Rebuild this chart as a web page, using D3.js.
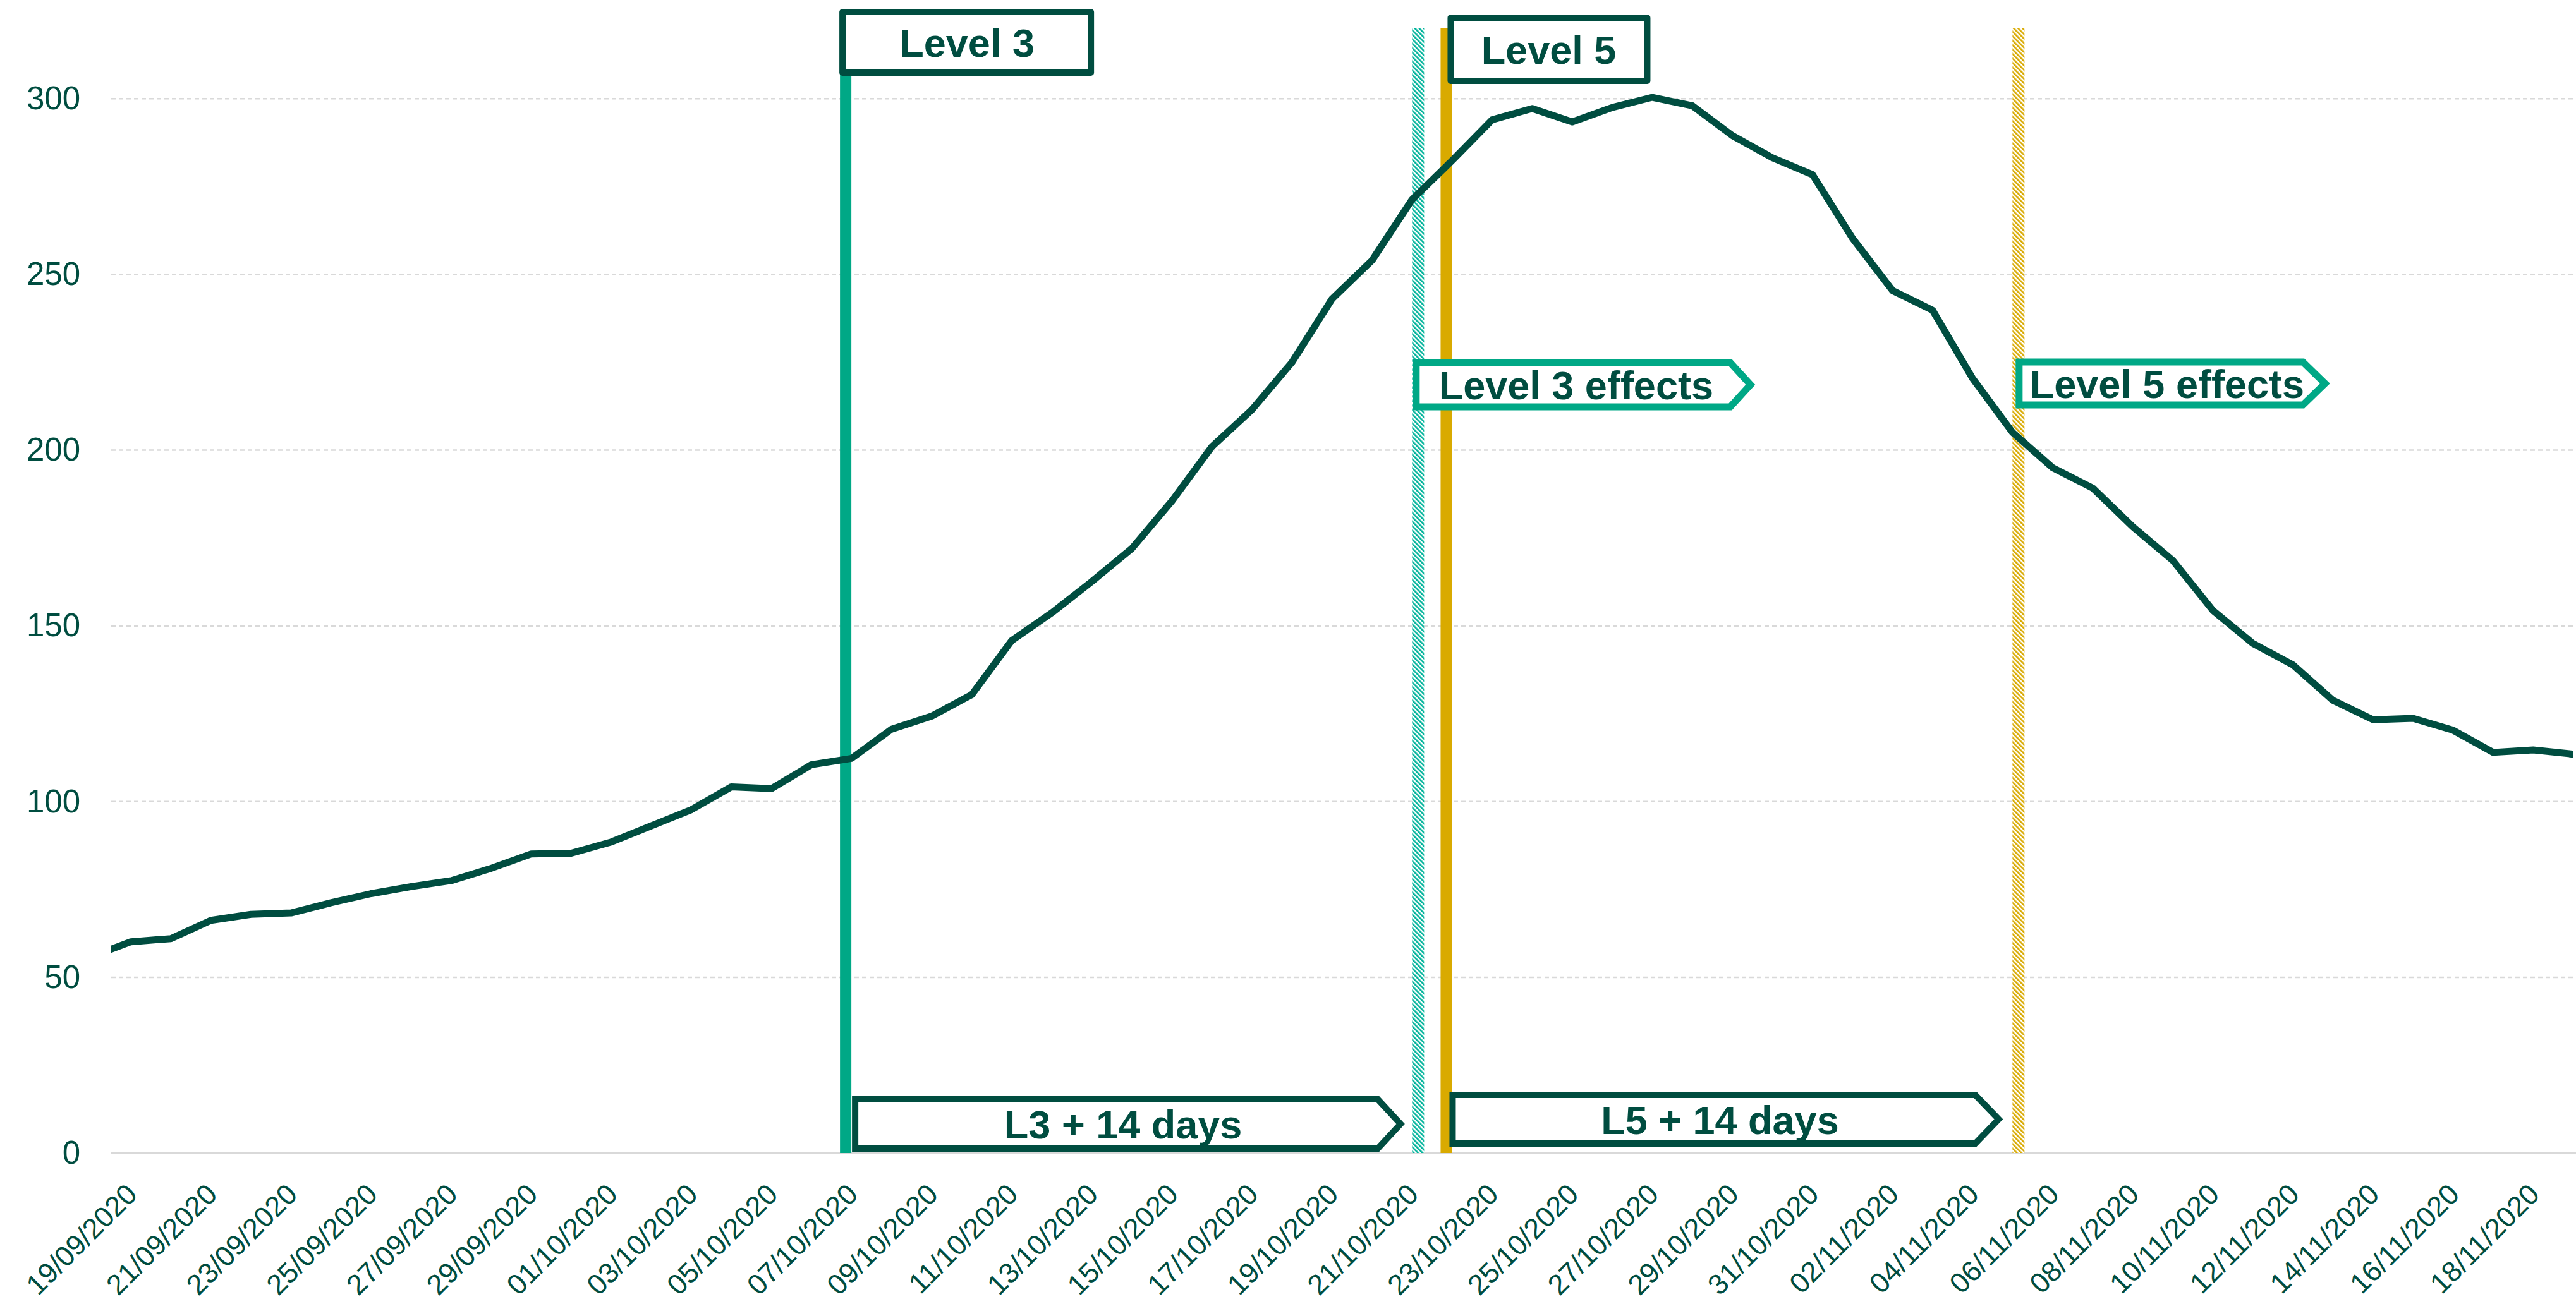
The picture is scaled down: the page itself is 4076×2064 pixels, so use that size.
<!DOCTYPE html>
<html>
<head>
<meta charset="utf-8">
<script src="https://cdn.jsdelivr.net/npm/d3@7"></script>
<style>
  html, body { margin: 0; padding: 0; background: #fff; }
  text { font-family: "Liberation Sans", Arial, sans-serif; }
</style>
</head>
<body>
<div id="plot"></div>
<script>
// daily values, first day 18/09/2020
var startDate = "2020-09-18";
var values = [
  55.8, 60.1, 61.0, 66.2, 67.9, 68.3, 71.2, 73.8, 75.8, 77.5,
  81.0, 85.1, 85.3, 88.5, 93.1, 97.7, 104.2, 103.7, 110.5, 112.3,
  120.6, 124.3, 130.4, 145.8, 153.7, 162.6, 172.0, 185.5, 201.0, 211.5,
  225.0, 243.0, 254.0, 271.3, 282.4, 294.0, 297.2, 293.4, 297.5, 300.4,
  298.0, 289.5, 283.2, 278.4, 260.3, 245.4, 239.8, 220.4, 205.0, 195.0,
  189.2, 178.2, 168.6, 154.4, 145.0, 138.9, 128.8, 123.3, 123.7, 120.3,
  114.0, 114.7, 113.5
];
var yTicks = [0, 50, 100, 150, 200, 250, 300];
var firstTick = "2020-09-19";
var lastTick = "2020-11-18";

// vertical event markers
var events = [
  {key: "L3",    date: "2020-10-06T20:29Z", color: "#00A886", hatch: false},
  {key: "L3eff", date: "2020-10-21T03:36Z", color: "#00B39B", hatch: true},
  {key: "L5",    date: "2020-10-21T20:30Z", color: "#D9AA00", hatch: false},
  {key: "L5eff", date: "2020-11-05T03:30Z", color: "#D9AA00", hatch: true}
];

// annotation boxes, anchored on an event
var notes = [
  {text: "Level 3",         ev: "L3",    dx: -5, w: 393, arrow: 0,  top: 19,   h: 96, tx: 197, stroke: "#004D40"},
  {text: "Level 5",         ev: "L5",    dx: 7,  w: 311, arrow: 0,  top: 28,   h: 100, tx: 155, stroke: "#004D40"},
  {text: "Level 3 effects", ev: "L3eff", dx: -3, w: 497, arrow: 32, top: 574,  h: 70, tx: 253, stroke: "#00A886"},
  {text: "Level 5 effects", ev: "L5eff", dx: 1,  w: 449, arrow: 35, top: 573,  h: 68, tx: 234, stroke: "#00A886"},
  {text: "L3 + 14 days",    ev: "L3",    dx: 15, w: 827, arrow: 36, top: 1740, h: 78, tx: 424, stroke: "#004D40"},
  {text: "L5 + 14 days",    ev: "L5",    dx: 10, w: 827, arrow: 37, top: 1733, h: 77, tx: 423, stroke: "#004D40"}
];

var dark = "#004D40";

var W = 4076, H = 2064;
var margin = {top: 45, right: 0, bottom: 239, left: 176};
var width = W - margin.left - margin.right;
var height = H - margin.top - margin.bottom;

var parse = d3.utcParse("%Y-%m-%d");
var t0 = parse(startDate);
var data = values.map(function(v, i) { return {date: d3.utcDay.offset(t0, i), value: v}; });

var svg = d3.select("#plot").append("svg")
    .attr("width", W)
    .attr("height", H);

var defs = svg.append("defs");
defs.append("clipPath").attr("id", "clip")
  .append("rect")
    .attr("x", margin.left).attr("y", 0)
    .attr("width", width).attr("height", H);

events.filter(function(e) { return e.hatch; }).forEach(function(e) {
  var p = defs.append("pattern")
      .attr("id", "hatch-" + e.key)
      .attr("patternUnits", "userSpaceOnUse")
      .attr("width", 5).attr("height", 5)
      .attr("patternTransform", "rotate(-45)");
  p.append("rect").attr("width", 5).attr("height", 5).attr("fill", "#fff");
  p.append("rect").attr("width", 2.6).attr("height", 5).attr("fill", e.color);
});

// scales
var xScale = d3.scaleUtc()
    .domain([new Date(Date.UTC(2020, 8, 18, 12, 14)), new Date(Date.UTC(2020, 10, 19, 1, 41))])
    .range([margin.left, margin.left + width]);

var yScale = d3.scaleLinear()
    .domain([0, 320])
    .range([margin.top + height, margin.top]);

// gridlines
svg.append("g")
  .selectAll("line")
  .data(yTicks)
  .enter().append("line")
    .attr("x1", margin.left)
    .attr("x2", margin.left + width)
    .attr("y1", function(d) { return yScale(d); })
    .attr("y2", function(d) { return yScale(d); })
    .attr("stroke", "#D9D9D9")
    .attr("stroke-width", function(d) { return d === 0 ? 3 : 2.5; })
    .attr("stroke-dasharray", function(d) { return d === 0 ? null : "7,5"; });

// y axis
var yAxis = svg.append("g")
    .attr("transform", "translate(" + margin.left + ",0)")
    .call(d3.axisLeft(yScale).tickValues(yTicks).tickSize(0).tickPadding(49));
yAxis.select(".domain").remove();
yAxis.selectAll("text")
    .attr("fill", dark)
    .style("font-size", "51px")
    .style("font-family", "'Liberation Sans', Arial, sans-serif");

// x axis
var tickDates = d3.utcDay.range(parse(firstTick), d3.utcDay.offset(parse(lastTick), 1), 2);
var xAxis = svg.append("g")
    .attr("transform", "translate(0," + (margin.top + height) + ")")
    .call(d3.axisBottom(xScale).tickValues(tickDates).tickSize(0).tickFormat(d3.utcFormat("%d/%m/%Y")));
xAxis.select(".domain").remove();
xAxis.selectAll("text")
    .attr("x", 0).attr("y", 0).attr("dy", 0)
    .attr("transform", "translate(12,68) rotate(-45)")
    .attr("fill", dark)
    .style("text-anchor", "end")
    .style("font-size", "45px")
    .style("font-family", "'Liberation Sans', Arial, sans-serif");

// event bars
var evX = {};
events.forEach(function(e) { evX[e.key] = xScale(new Date(e.date)); });

svg.append("g")
  .selectAll("rect")
  .data(events)
  .enter().append("rect")
    .attr("x", function(d) { return evX[d.key] - (d.hatch ? 9.5 : 9); })
    .attr("width", function(d) { return d.hatch ? 19 : 18; })
    .attr("y", yScale(320))
    .attr("height", yScale(0) - yScale(320))
    .attr("fill", function(d) { return d.hatch ? "url(#hatch-" + d.key + ")" : d.color; });

// line
var line = d3.line()
    .x(function(d) { return xScale(d.date); })
    .y(function(d) { return yScale(d.value); });

svg.append("path")
    .datum(data)
    .attr("clip-path", "url(#clip)")
    .attr("fill", "none")
    .attr("stroke", dark)
    .attr("stroke-width", 11)
    .attr("stroke-linejoin", "round")
    .attr("d", line);

// annotation boxes
var boxes = svg.append("g")
  .selectAll("g")
  .data(notes)
  .enter().append("g");

boxes.append("path")
    .attr("d", function(d) {
      var x0 = evX[d.ev] + d.dx, x1 = x0 + d.w, y0 = d.top, y1 = d.top + d.h;
      if (!d.arrow) {
        return "M" + x0 + "," + y0 + "H" + x1 + "V" + y1 + "H" + x0 + "Z";
      }
      return "M" + x0 + "," + y0 + "H" + x1 + "L" + (x1 + d.arrow) + "," + (y0 + d.h / 2) +
             "L" + x1 + "," + y1 + "H" + x0 + "Z";
    })
    .attr("fill", "#fff")
    .attr("stroke", function(d) { return d.stroke; })
    .attr("stroke-width", function(d) { return d.stroke === dark ? 10 : 11; })
    .attr("stroke-linejoin", function(d) { return d.arrow ? "miter" : "round"; });

boxes.append("text")
    .attr("x", function(d) { return evX[d.ev] + d.dx + d.tx; })
    .attr("y", function(d) { return d.top + d.h / 2 + 23; })
    .attr("text-anchor", "middle")
    .attr("fill", dark)
    .style("font-size", "63px")
    .style("font-weight", "bold")
    .text(function(d) { return d.text; });
</script>
</body>
</html>
